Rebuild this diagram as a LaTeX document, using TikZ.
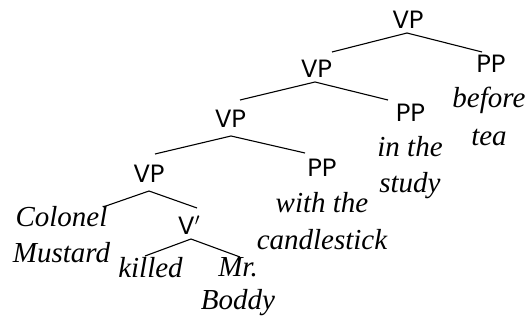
\documentclass[tikz,border=0pt]{standalone}
\usepackage{fontspec}
\setmainfont{Liberation Serif}
\newfontfamily\labfont{Poppins}
\begin{document}
\begin{tikzpicture}[x=1pt,y=-1pt,
  cat/.style={font=\labfont\fontsize{25}{28}\selectfont, inner sep=0pt, anchor=base},
  word/.style={font=\itshape\fontsize{29}{36}\selectfont, inner sep=0pt, anchor=base, align=center},
  branch/.style={line width=1.1pt}]
\useasboundingbox (0,0) rectangle (531,320);
% category labels
\node[cat] (vp1) at (408,28.3) {VP};
\node[cat] (vp2) at (316.5,77.3) {VP};
\node[cat] (vp3) at (230.5,127.3) {VP};
\node[cat] (vp4) at (149,182.7) {VP};
\node[cat] (pp1) at (491,73) {PP};
\node[cat] (pp2) at (410.5,122) {PP};
\node[cat] (pp3) at (322,176.7) {PP};
\node[cat] (vbar) at (189,235) {V$'$};
% words (base anchor = baseline of last line)
\node[word] (w1) at (489,146) {before\\[2pt]tea};
\node[word] (w2) at (410,193) {in the\\study};
\node[word] (w3) at (322,250) {with the\\[1pt]candlestick};
\node[word] (w4) at (61.5,263) {Colonel\\Mustard};
\node[word] (w5) at (150.5,278) {killed};
\node[word] (w6) at (238,310) {Mr.\\[-3pt]Boddy};
% branch points
\coordinate (a1) at (407,33);  \coordinate (a1l) at (332,52);  \coordinate (a1r) at (482,52);
\coordinate (a2) at (315,82);  \coordinate (a2l) at (240,100); \coordinate (a2r) at (388,100);
\coordinate (a3) at (231,136); \coordinate (a3l) at (155,154); \coordinate (a3r) at (305,153);
\coordinate (a4) at (149,191); \coordinate (a4l) at (103,207); \coordinate (a4r) at (197,208);
\coordinate (a5) at (191,239); \coordinate (a5l) at (145,256); \coordinate (a5r) at (240,257);
\draw[branch] (a1l) -- (a1) -- (a1r);
\draw[branch] (a2l) -- (a2) -- (a2r);
\draw[branch] (a3l) -- (a3) -- (a3r);
\draw[branch] (a4l) -- (a4) -- (a4r);
\draw[branch] (a5l) -- (a5) -- (a5r);
\end{tikzpicture}
\end{document}
